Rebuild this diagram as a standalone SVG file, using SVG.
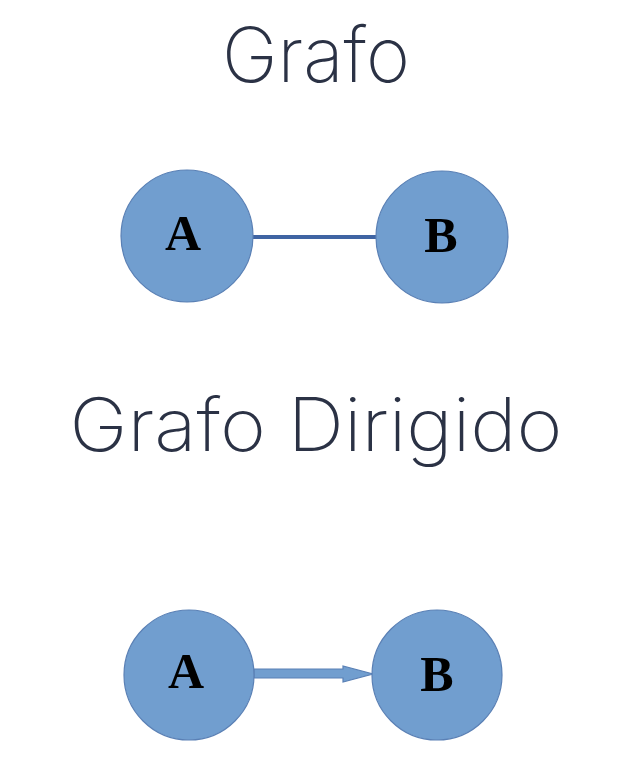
<svg xmlns="http://www.w3.org/2000/svg" width="626" height="761" viewBox="0 0 626 761">
<style>
.title{font-family:Inter,"Lato","Open Sans",sans-serif;font-weight:200;fill:#2b3245}
.node{fill:#719ecf;stroke:#5a80b5;stroke-width:1.2}
.lbl{font-family:"Liberation Serif","DejaVu Serif",serif;font-weight:bold;font-size:50px;fill:#000;text-anchor:middle}
</style>
<rect width="626" height="761" fill="#fff"/>
<text class="title" x="316" y="82" font-size="76" text-anchor="middle" textLength="188" lengthAdjust="spacingAndGlyphs">Grafo</text>
<text class="title" x="316" y="451" font-size="74" text-anchor="middle" textLength="493" lengthAdjust="spacingAndGlyphs">Grafo Dirigido</text>
<g id="connectors">
<line x1="253" y1="237" x2="376" y2="237" stroke="#3f64a3" stroke-width="4"/>
<path d="M254,669 H343 V666 L373,674 L343,682 V678 H254 Z" fill="#719ecf" stroke="#5a80b5" stroke-width="1.2"/>
</g>
<g id="g1-A"><circle class="node" cx="187" cy="236" r="66"/><text class="lbl" x="183" y="250">A</text></g>
<g id="g1-B"><circle class="node" cx="442" cy="237" r="66"/><text class="lbl" x="441" y="252">B</text></g>
<g id="g2-A"><circle class="node" cx="189" cy="675" r="65"/><text class="lbl" x="186" y="688">A</text></g>
<g id="g2-B"><circle class="node" cx="437" cy="675" r="65"/><text class="lbl" x="437" y="691">B</text></g>
</svg>
